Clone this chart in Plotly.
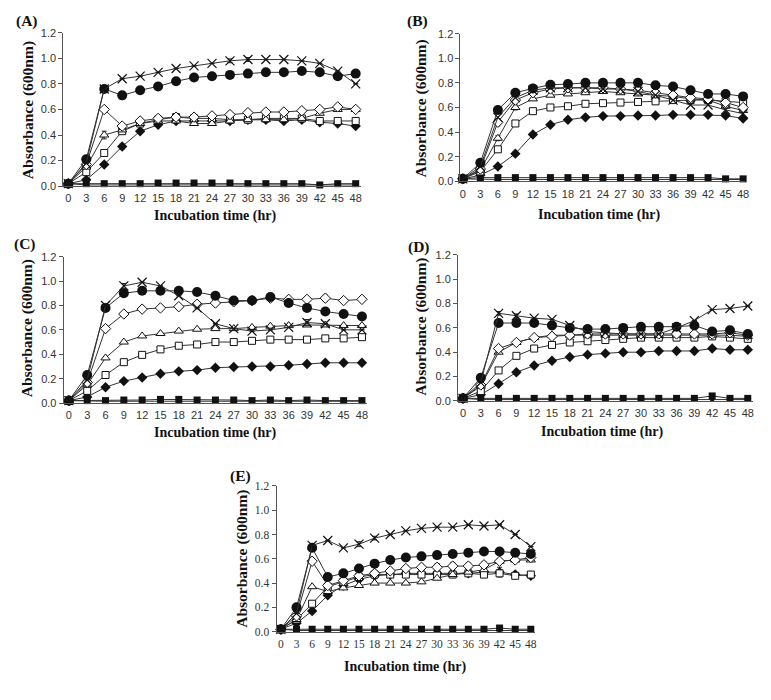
import plotly.graph_objects as go

# page is 771x700; the html body has an 8px margin, so the figure is drawn 8px in
PAGE_W, PAGE_H, OFF = 771, 700, 8
W, H = PAGE_W - 2 * OFF, PAGE_H - 2 * OFF

hours = [0, 3, 6, 9, 12, 15, 18, 21, 24, 27, 30, 33, 36, 39, 42, 45, 48]
y_ticks = [0.0, 0.2, 0.4, 0.6, 0.8, 1.0, 1.2]
y_tick_labels = ["0.0", "0.2", "0.4", "0.6", "0.8", "1.0", "1.2"]
panel_names = ["(A)", "(B)", "(C)", "(D)", "(E)"]
y_title = "Absorbance (600nm)"
x_title = "Incubation time (hr)"

# ---- Panel A ----
A_cross = [0.02, 0.18, 0.76, 0.84, 0.86, 0.89, 0.92, 0.94, 0.96, 0.98, 0.99, 0.99, 0.99, 0.98, 0.96, 0.90, 0.80]
A_circle = [0.02, 0.21, 0.76, 0.71, 0.75, 0.78, 0.82, 0.85, 0.86, 0.87, 0.88, 0.89, 0.89, 0.90, 0.89, 0.86, 0.88]
A_odiamond = [0.02, 0.17, 0.60, 0.47, 0.51, 0.53, 0.54, 0.54, 0.55, 0.56, 0.575, 0.58, 0.58, 0.59, 0.60, 0.62, 0.60]
A_triangle = [0.02, 0.15, 0.40, 0.44, 0.49, 0.51, 0.51, 0.49, 0.49, 0.51, 0.52, 0.52, 0.52, 0.53, 0.57, 0.60, 0.60]
A_osquare = [0.02, 0.11, 0.26, 0.43, 0.49, 0.52, 0.54, 0.53, 0.53, 0.52, 0.52, 0.53, 0.53, 0.53, 0.51, 0.51, 0.51]
A_fdiamond = [0.02, 0.05, 0.17, 0.31, 0.43, 0.48, 0.51, 0.51, 0.51, 0.51, 0.52, 0.52, 0.51, 0.52, 0.50, 0.49, 0.47]
A_fsquare = [0.02, 0.02, 0.02, 0.02, 0.02, 0.025, 0.025, 0.025, 0.025, 0.025, 0.02, 0.02, 0.02, 0.02, 0.01, 0.02, 0.02]
A_base = [0.02, 0.01, 0.01, 0.01, 0.01, 0.01, 0.01, 0.01, 0.01, 0.01, 0.01, 0.01, 0.01, 0.01, 0.01, 0.01, 0.01]
A_triangle_err = [0, 0, 0.03, 0, 0, 0, 0, 0.015, 0.015, 0.015, 0, 0, 0, 0, 0, 0.015, 0]
A_fdiamond_err = [0, 0, 0, 0.02, 0, 0, 0, 0, 0, 0, 0, 0, 0, 0, 0, 0, 0]
A_cross_err = [0, 0, 0, 0, 0, 0, 0, 0, 0, 0.015, 0.015, 0, 0, 0, 0, 0, 0]
A_circle_err = [0, 0, 0, 0, 0, 0, 0, 0, 0, 0, 0, 0, 0.02, 0, 0, 0, 0]

# ---- Panel B ----
B_cross = [0.02, 0.12, 0.52, 0.68, 0.74, 0.76, 0.76, 0.76, 0.75, 0.75, 0.73, 0.70, 0.66, 0.62, 0.62, 0.58, 0.55]
B_circle = [0.02, 0.15, 0.58, 0.72, 0.755, 0.785, 0.79, 0.80, 0.80, 0.80, 0.80, 0.78, 0.77, 0.74, 0.71, 0.71, 0.69]
B_odiamond = [0.02, 0.10, 0.48, 0.66, 0.72, 0.75, 0.76, 0.76, 0.76, 0.75, 0.74, 0.72, 0.70, 0.68, 0.67, 0.64, 0.60]
B_triangle = [0.02, 0.09, 0.35, 0.60, 0.67, 0.70, 0.71, 0.72, 0.73, 0.72, 0.71, 0.70, 0.69, 0.67, 0.66, 0.61, 0.575]
B_osquare = [0.02, 0.08, 0.26, 0.47, 0.57, 0.60, 0.61, 0.63, 0.635, 0.64, 0.645, 0.65, 0.66, 0.66, 0.66, 0.65, 0.64]
B_fdiamond = [0.02, 0.05, 0.12, 0.225, 0.38, 0.46, 0.50, 0.52, 0.53, 0.53, 0.535, 0.535, 0.54, 0.54, 0.54, 0.535, 0.51]
B_fsquare = [0.02, 0.03, 0.03, 0.03, 0.03, 0.03, 0.03, 0.03, 0.03, 0.03, 0.03, 0.03, 0.03, 0.03, 0.03, 0.02, 0.02]
B_base = [0.02, 0.015, 0.015, 0.015, 0.015, 0.015, 0.015, 0.015, 0.015, 0.015, 0.015, 0.015, 0.015, 0.015, 0.015, 0.015, 0.015]
B_odiamond_err = [0, 0, 0.03, 0, 0, 0, 0, 0, 0, 0, 0, 0, 0, 0, 0, 0, 0]
B_triangle_err = [0, 0, 0.02, 0.02, 0, 0, 0, 0, 0, 0, 0, 0, 0, 0, 0, 0, 0]

# ---- Panel C ----
C_cross = [0.02, 0.19, 0.80, 0.96, 0.99, 0.96, 0.88, 0.78, 0.65, 0.61, 0.59, 0.60, 0.62, 0.66, 0.65, 0.60, 0.60]
C_circle = [0.02, 0.23, 0.78, 0.90, 0.92, 0.92, 0.92, 0.91, 0.88, 0.84, 0.84, 0.87, 0.82, 0.78, 0.75, 0.73, 0.71]
C_odiamond = [0.02, 0.17, 0.61, 0.73, 0.77, 0.78, 0.79, 0.81, 0.82, 0.83, 0.84, 0.86, 0.85, 0.85, 0.86, 0.84, 0.85]
C_triangle = [0.02, 0.15, 0.37, 0.50, 0.55, 0.57, 0.59, 0.605, 0.61, 0.61, 0.62, 0.63, 0.635, 0.64, 0.64, 0.635, 0.635]
C_osquare = [0.02, 0.10, 0.23, 0.335, 0.395, 0.44, 0.47, 0.48, 0.50, 0.50, 0.51, 0.52, 0.52, 0.52, 0.53, 0.53, 0.54]
C_fdiamond = [0.02, 0.05, 0.13, 0.18, 0.21, 0.24, 0.26, 0.27, 0.29, 0.295, 0.30, 0.30, 0.31, 0.32, 0.33, 0.33, 0.33]
C_fsquare = [0.02, 0.02, 0.02, 0.025, 0.025, 0.03, 0.03, 0.025, 0.025, 0.025, 0.02, 0.025, 0.02, 0.025, 0.02, 0.02, 0.02]
C_base = [0.02, 0.015, 0.015, 0.015, 0.015, 0.015, 0.015, 0.015, 0.015, 0.015, 0.015, 0.015, 0.015, 0.015, 0.015, 0.015, 0.015]
C_cross_err = [0, 0, 0, 0.02, 0, 0, 0, 0, 0, 0, 0, 0, 0, 0.025, 0, 0, 0]
C_odiamond_err = [0, 0, 0.02, 0, 0, 0, 0, 0, 0, 0, 0, 0, 0, 0, 0.025, 0, 0]

# ---- Panel D ----
D_cross = [0.02, 0.15, 0.72, 0.70, 0.68, 0.67, 0.62, 0.57, 0.56, 0.55, 0.55, 0.55, 0.60, 0.66, 0.75, 0.76, 0.78]
D_circle = [0.02, 0.19, 0.64, 0.64, 0.64, 0.62, 0.60, 0.59, 0.59, 0.60, 0.61, 0.61, 0.61, 0.62, 0.57, 0.58, 0.55]
D_odiamond = [0.02, 0.13, 0.43, 0.48, 0.52, 0.53, 0.54, 0.55, 0.55, 0.55, 0.55, 0.55, 0.55, 0.55, 0.55, 0.56, 0.54]
D_triangle = [0.02, 0.12, 0.40, 0.48, 0.52, 0.54, 0.54, 0.54, 0.54, 0.54, 0.54, 0.54, 0.54, 0.54, 0.54, 0.54, 0.53]
D_osquare = [0.02, 0.08, 0.25, 0.37, 0.43, 0.46, 0.48, 0.49, 0.50, 0.51, 0.52, 0.52, 0.52, 0.52, 0.53, 0.52, 0.51]
D_fdiamond = [0.02, 0.05, 0.14, 0.235, 0.29, 0.33, 0.36, 0.38, 0.39, 0.40, 0.40, 0.41, 0.41, 0.41, 0.43, 0.42, 0.42]
D_fsquare = [0.02, 0.02, 0.02, 0.02, 0.02, 0.02, 0.02, 0.02, 0.02, 0.02, 0.02, 0.02, 0.02, 0.02, 0.04, 0.02, 0.02]
D_base = [0.02, 0.01, 0.01, 0.01, 0.01, 0.01, 0.01, 0.01, 0.01, 0.01, 0.01, 0.01, 0.01, 0.01, 0.01, 0.01, 0.01]
D_cross_err = [0, 0, 0.015, 0.015, 0, 0, 0, 0, 0, 0, 0, 0, 0, 0, 0, 0, 0]

# ---- Panel E ----
E_cross = [0.02, 0.15, 0.71, 0.75, 0.69, 0.72, 0.77, 0.80, 0.83, 0.85, 0.86, 0.86, 0.88, 0.87, 0.88, 0.80, 0.70]
E_circle = [0.02, 0.20, 0.69, 0.45, 0.48, 0.52, 0.56, 0.59, 0.61, 0.62, 0.63, 0.64, 0.65, 0.66, 0.66, 0.65, 0.64]
E_odiamond = [0.02, 0.13, 0.58, 0.38, 0.42, 0.46, 0.48, 0.50, 0.52, 0.53, 0.53, 0.54, 0.54, 0.55, 0.58, 0.59, 0.61]
E_triangle = [0.02, 0.10, 0.37, 0.33, 0.36, 0.38, 0.40, 0.40, 0.40, 0.41, 0.44, 0.47, 0.49, 0.51, 0.58, 0.59, 0.59]
E_osquare = [0.02, 0.10, 0.23, 0.37, 0.41, 0.45, 0.47, 0.47, 0.47, 0.47, 0.47, 0.47, 0.48, 0.47, 0.48, 0.46, 0.47]
E_fdiamond = [0.02, 0.07, 0.17, 0.30, 0.38, 0.43, 0.46, 0.47, 0.48, 0.48, 0.48, 0.48, 0.48, 0.49, 0.49, 0.47, 0.46]
E_fsquare = [0.02, 0.02, 0.02, 0.02, 0.02, 0.02, 0.02, 0.02, 0.02, 0.02, 0.02, 0.02, 0.02, 0.02, 0.03, 0.02, 0.02]
E_base = [0.02, 0.01, 0.01, 0.01, 0.01, 0.01, 0.01, 0.01, 0.01, 0.01, 0.01, 0.01, 0.01, 0.01, 0.01, 0.01, 0.01]
E_cross_err = [0, 0, 0, 0, 0, 0.02, 0.015, 0, 0, 0, 0, 0, 0, 0, 0, 0, 0]
E_odiamond_err = [0, 0, 0, 0, 0, 0, 0, 0.02, 0.025, 0.025, 0.03, 0.03, 0.025, 0.025, 0.02, 0, 0]
E_fdiamond_err = [0, 0, 0, 0, 0, 0, 0, 0, 0, 0, 0, 0, 0, 0, 0.04, 0, 0.02]

# order: base, filled square, filled diamond, open square, triangle, open diamond, circle, cross
panels_data = [
    [A_base, A_fsquare, A_fdiamond, A_osquare, A_triangle, A_odiamond, A_circle, A_cross],
    [B_base, B_fsquare, B_fdiamond, B_osquare, B_triangle, B_odiamond, B_circle, B_cross],
    [C_base, C_fsquare, C_fdiamond, C_osquare, C_triangle, C_odiamond, C_circle, C_cross],
    [D_base, D_fsquare, D_fdiamond, D_osquare, D_triangle, D_odiamond, D_circle, D_cross],
    [E_base, E_fsquare, E_fdiamond, E_osquare, E_triangle, E_odiamond, E_circle, E_cross],
]
panels_err = [
    {2: A_fdiamond_err, 4: A_triangle_err, 6: A_circle_err, 7: A_cross_err},
    {4: B_triangle_err, 5: B_odiamond_err},
    {5: C_odiamond_err, 7: C_cross_err},
    {7: D_cross_err},
    {2: E_fdiamond_err, 5: E_odiamond_err, 7: E_cross_err},
]

# ---- styling (not data) ----
marker_styles = [
    dict(symbol="square", size=4, color="#111111", line=dict(width=0)),
    dict(symbol="square", size=7, color="#111111", line=dict(width=0)),
    dict(symbol="diamond", size=8, color="#111111", line=dict(width=0)),
    dict(symbol="square", size=7, color="white", line=dict(width=1, color="#111111")),
    dict(symbol="triangle-up", size=8, color="white", line=dict(width=1, color="#111111")),
    dict(symbol="diamond", size=8, color="white", line=dict(width=1, color="#111111")),
    dict(symbol="circle", size=10, color="#111111", line=dict(width=0)),
    dict(symbol="x-thin", size=9, color="#111111", line=dict(width=1.2, color="#111111")),
]

# pixel geometry of each panel on the page
geom = [
    dict(x0=62.7, x48=357.0, pad=0.83, y0=183.3, y12=27.0, lab=(26, 15), yt=(27, 106), xt=(215, 214), serif=False),
    dict(x0=462.5, x48=747.0, pad=0.40, y0=178.3, y12=28.0, lab=(419, 15), yt=(423, 104), xt=(602, 213), serif=False),
    dict(x0=63.0, x48=363.3, pad=0.86, y0=404.0, y12=255.0, lab=(24, 242), yt=(27, 328), xt=(215, 434), serif=False),
    dict(x0=460.0, x48=751.7, pad=0.84, y0=401.7, y12=253.3, lab=(421, 245), yt=(423, 326), xt=(605, 433), serif=False),
    dict(x0=277.3, x48=533.3, pad=0.84, y0=636.7, y12=488.3, lab=(241, 478), yt=(243, 562), xt=(407, 673), serif=True),
]


def px_x(p):
    return (p - OFF) / W


def px_y(p):
    return 1 - (p - OFF) / H


fig = go.Figure()
annotations = []
layout_axes = {}
for i, (series, g) in enumerate(zip(panels_data, geom)):
    n = "" if i == 0 else str(i + 1)
    xa, ya = "x" + n, "y" + n
    pph = (g["x48"] - g["x0"]) / (48 + g["pad"])
    left_px = g["x0"]
    right_px = g["x48"] + g["pad"] * pph
    for k, (vals, ms) in enumerate(zip(series, marker_styles)):
        err = panels_err[i].get(k)
        fig.add_trace(go.Scatter(
            x=hours, y=vals, xaxis=xa, yaxis=ya, mode="lines+markers",
            line=dict(color="#333333", width=1), marker=ms,
            error_y=(dict(type="data", array=err, visible=True, color="#222222", thickness=1, width=2.5)
                     if err is not None else None),
            cliponaxis=False, showlegend=False, hoverinfo="skip"))
    tick_font = dict(family="Liberation Serif" if g["serif"] else "Liberation Sans",
                     size=11.5 if g["serif"] else 11, color="#333333")
    layout_axes["xaxis" + n] = dict(
        domain=[px_x(left_px), px_x(right_px)], anchor=ya,
        range=[-g["pad"], 48 + g["pad"]], tickmode="array", tickvals=hours,
        ticktext=[str(h) for h in hours], showgrid=False, zeroline=False,
        showline=True, linecolor="#555555", linewidth=1, ticks="", tickfont=tick_font,
        ticklabelstandoff=2)
    layout_axes["yaxis" + n] = dict(
        domain=[px_y(g["y0"]), px_y(g["y12"])], anchor=xa,
        range=[0, 1.2], tickmode="array", tickvals=y_ticks, ticktext=y_tick_labels,
        showgrid=False, zeroline=False, showline=True, linecolor="#555555", linewidth=1,
        ticks="outside", ticklen=4, tickcolor="#555555", tickfont=tick_font)
    annotations.append(dict(x=px_x(g["lab"][0]), y=px_y(g["lab"][1]), xref="paper", yref="paper",
                            text="<b>" + panel_names[i] + "</b>", showarrow=False,
                            font=dict(family="Liberation Serif", size=15.5, color="#111111"),
                            xanchor="center", yanchor="middle"))
    annotations.append(dict(x=px_x(g["yt"][0]), y=px_y(g["yt"][1]), xref="paper", yref="paper",
                            text="<b>" + y_title + "</b>", showarrow=False, textangle=-90,
                            font=dict(family="Liberation Serif", size=15.5, color="#111111"),
                            xanchor="center", yanchor="middle"))
    annotations.append(dict(x=px_x(g["xt"][0]), y=px_y(g["xt"][1]), xref="paper", yref="paper",
                            text="<b>" + x_title + "</b>", showarrow=False,
                            font=dict(family="Liberation Serif", size=14, color="#111111"),
                            xanchor="center", yanchor="middle"))

fig.update_layout(width=W, height=H, margin=dict(l=0, r=0, t=0, b=0),
                  paper_bgcolor="white", plot_bgcolor="white",
                  annotations=annotations, **layout_axes)
fig.write_html("out.html")
